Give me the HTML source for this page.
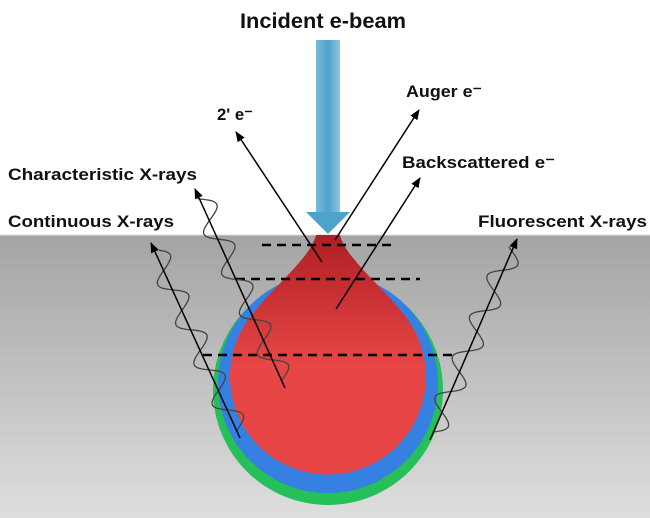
<!DOCTYPE html>
<html><head><meta charset="utf-8"><style>
html,body{margin:0;padding:0;background:#fff;}
svg{display:block;font-family:"Liberation Sans",Arial,sans-serif;font-weight:bold;}
</style></head><body>
<svg id="s" width="650" height="518" viewBox="0 0 650 518" xmlns="http://www.w3.org/2000/svg">
<defs>
<linearGradient id="g" x1="0" y1="0" x2="0" y2="1"><stop offset="0" stop-color="#a4a4a4"/><stop offset="1" stop-color="#dedede"/></linearGradient>
<linearGradient id="r" x1="0" y1="0" x2="0" y2="1"><stop offset="0" stop-color="#ad1f23"/><stop offset="0.55" stop-color="#e84646"/><stop offset="1" stop-color="#e84646"/></linearGradient>
<linearGradient id="b" x1="0" y1="0" x2="1" y2="0"><stop offset="0" stop-color="#7bbbd8"/><stop offset="0.5" stop-color="#4ea3cb"/><stop offset="1" stop-color="#8cc6df"/></linearGradient>
<marker id="a" viewBox="0 0 10 10" refX="9" refY="5" markerWidth="7" markerHeight="7" orient="auto"><path d="M0,1 L10,5 L0,9 Z" fill="#000"/></marker>
</defs>
<rect x="0" y="235" width="650" height="283" fill="url(#g)"/>
<line x1="0" y1="235" x2="650" y2="235" stroke="#ddd" stroke-width="1"/>
<circle cx="328" cy="390" r="115" fill="#25c05a"/>
<circle cx="328" cy="383" r="110" fill="#3580e0"/>
<path d="M316,235 L340,235 C345,258 385,288 408,320 A98,98 0 1 1 248,320 C271,288 311,258 316,235 Z" fill="url(#r)"/>
<g stroke="#000" stroke-width="2.5" stroke-dasharray="9,6">
<line x1="262" y1="245" x2="395" y2="245"/>
<line x1="236" y1="279" x2="420" y2="279"/>
<line x1="203" y1="355" x2="458" y2="355"/>
</g>
<rect x="316" y="40" width="24" height="172" fill="url(#b)"/>
<path d="M306,212 L350,212 L328,234 Z" fill="#4ea3cb"/>
<g id="w" fill="none" stroke="#444" stroke-width="1.3"></g>
<g stroke="#000" stroke-width="1.5" marker-end="url(#a)" fill="none">
<line x1="322" y1="262" x2="236" y2="132"/>
<line x1="335" y1="240" x2="419" y2="110"/>
<line x1="336" y1="309" x2="420" y2="178"/>
<line x1="285" y1="388" x2="195" y2="189"/>
<line x1="240" y1="438" x2="151" y2="243"/>
<line x1="430" y1="440" x2="517" y2="239"/>
</g>
<g font-size="17" fill="#111">
<text x="240" y="28" font-size="21" textLength="166" lengthAdjust="spacingAndGlyphs">Incident e-beam</text>
<text x="217" y="120" textLength="36" lengthAdjust="spacingAndGlyphs">2' e⁻</text>
<text x="406" y="97" textLength="76" lengthAdjust="spacingAndGlyphs">Auger e⁻</text>
<text x="402" y="168" textLength="153" lengthAdjust="spacingAndGlyphs">Backscattered e⁻</text>
<text x="8" y="180" textLength="189" lengthAdjust="spacingAndGlyphs">Characteristic X-rays</text>
<text x="8" y="227" textLength="166" lengthAdjust="spacingAndGlyphs">Continuous X-rays</text>
<text x="478" y="227" textLength="169" lengthAdjust="spacingAndGlyphs">Fluorescent X-rays</text>
</g>
</svg>
<script>
(function(){
var g=document.getElementById('w');
function wave(x1,y1,x2,y2){
 var dx=x2-x1,dy=y2-y1,L=Math.sqrt(dx*dx+dy*dy),ux=dx/L,uy=dy/L,nx=-uy,ny=ux;
 var d='';
 for(var t=0;t<=L;t+=2){
  var o=12*Math.sin(t/44*2*Math.PI);
  var x=x1+ux*t+nx*o,y=y1+uy*t+ny*o;
  d+=(t==0?'M':'L')+x.toFixed(1)+','+y.toFixed(1);
 }
 var p=document.createElementNS('http://www.w3.org/2000/svg','path');
 p.setAttribute('d',d);g.appendChild(p);
}
wave(282,380,200,196);
wave(237,430,155,250);
wave(433,432,512,248);
})();
</script>
</body></html>
